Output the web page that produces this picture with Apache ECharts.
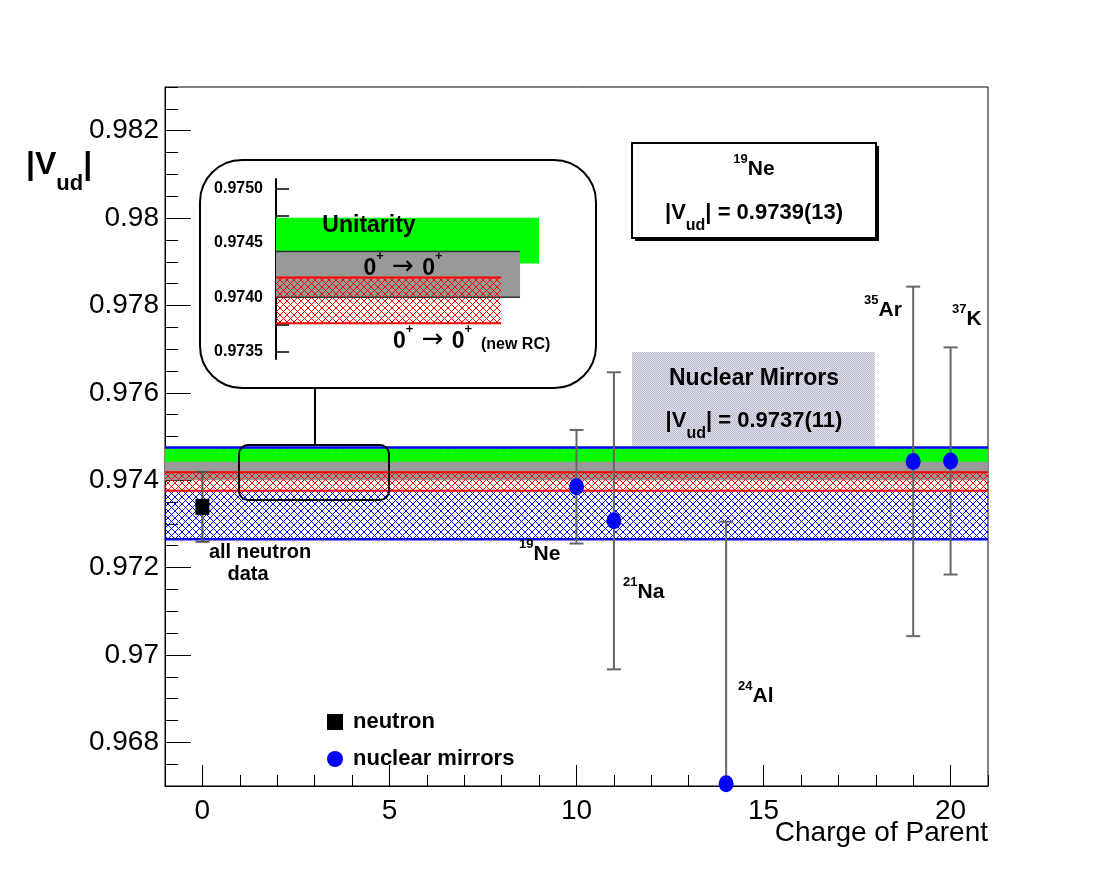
<!DOCTYPE html>
<html><head><meta charset="utf-8">
<script src="https://cdn.jsdelivr.net/npm/echarts@6/dist/echarts.min.js"></script>
<style>html,body{margin:0;padding:0;background:#fff}#c{width:1098px;height:874px}</style>
</head><body><div id="c"></div>
<script>
// ---------- data ----------
const xMajorTicks = [0, 5, 10, 15, 20];
const xMinorTicks = [-1, 0, 1, 2, 3, 4, 5, 6, 7, 8, 9, 10, 11, 12, 13, 14, 15, 16, 17, 18, 19, 20, 21];
const yMajorTicks = [0.968, 0.970, 0.972, 0.974, 0.976, 0.978, 0.980, 0.982];
const yMinorTicks = [0.9670, 0.9675, 0.9680, 0.9685, 0.9690, 0.9695, 0.9700, 0.9705, 0.9710, 0.9715,
  0.9720, 0.9725, 0.9730, 0.9735, 0.9740, 0.9745, 0.9750, 0.9755, 0.9760, 0.9765, 0.9770, 0.9775,
  0.9780, 0.9785, 0.9790, 0.9795, 0.9800, 0.9805, 0.9810, 0.9815, 0.9820, 0.9825, 0.9830];
const insetTicks = [0.97350, 0.97375, 0.97400, 0.97425, 0.97450, 0.97475, 0.97500];
const insetLabels = [0.9735, 0.9740, 0.9745, 0.9750];

const neutronZ = [0];
const neutronVud = [0.97339];
const neutronErr = [0.0008];

const mirrorNames = ['19Ne', '21Na', '24Al', '35Ar', '37K'];
const mirrorZ = [10, 11, 14, 19, 20];
const mirrorVud = [0.97385, 0.97307, 0.96705, 0.97443, 0.97444];
const mirrorErr = [0.0013, 0.0034, 0.0060, 0.0040, 0.0026];

const unitarityBand = [0.97431, 0.97473];
const superallowedBand = [0.97400, 0.97442];
const newRCBand = [0.97376, 0.97418];
const mirrorAvgBand = [0.97265, 0.97475];

// ---------- styles ----------
const FONT = 'Liberation Sans';
function hatch(color, size) {
  const c = document.createElement('canvas');
  c.width = c.height = size;
  const g = c.getContext('2d');
  g.strokeStyle = color; g.lineWidth = 1;
  g.beginPath();
  g.moveTo(-1, -1); g.lineTo(size + 1, size + 1);
  g.moveTo(size + 1, -1); g.lineTo(-1, size + 1);
  g.stroke();
  return { image: c, repeat: 'repeat' };
}
function checker(a, b) {
  const c = document.createElement('canvas');
  c.width = c.height = 2;
  const g = c.getContext('2d');
  g.fillStyle = b; g.fillRect(0, 0, 2, 2);
  g.fillStyle = a; g.fillRect(0, 0, 1, 1); g.fillRect(1, 1, 1, 1);
  return { image: c, repeat: 'repeat' };
}
const blueHatch = hatch('#0000ff', 7);
const redHatch = hatch('#ff0000', 7);

function bandSeries(name, band, fill, edge, xi, frac, z) {
  return {
    type: 'custom', name: name, xAxisIndex: xi, yAxisIndex: xi, z: z,
    clip: true, silent: true,
    data: [[0, band[0], band[1]]],
    encode: { x: 0, y: [1, 2] },
    renderItem: function (params, api) {
      const cs = params.coordSys;
      const yHi = api.coord([0, api.value(2)])[1];
      const yLo = api.coord([0, api.value(1)])[1];
      const w = cs.width * frac;
      const ch = [{ type: 'rect', shape: { x: cs.x, y: yHi, width: w, height: yLo - yHi }, style: { fill: fill } }];
      if (edge) {
        ch.push({ type: 'line', shape: { x1: cs.x, y1: yHi, x2: cs.x + w, y2: yHi }, style: { stroke: edge.color, lineWidth: edge.width } });
        ch.push({ type: 'line', shape: { x1: cs.x, y1: yLo, x2: cs.x + w, y2: yLo }, style: { stroke: edge.color, lineWidth: edge.width } });
      }
      return { type: 'group', children: ch };
    }
  };
}

function errSeries(xs, ys, es, color) {
  return {
    type: 'custom', clip: true, silent: true, z: 5,
    data: xs.map((x, i) => [x, ys[i], es[i]]),
    encode: { x: 0, y: 1 },
    renderItem: function (params, api) {
      const x = api.value(0), y = api.value(1), e = api.value(2);
      const top = api.coord([x, y + e]);
      const bot = api.coord([x, y - e]);
      const st = { stroke: color, lineWidth: 2 };
      return {
        type: 'group', children: [
          { type: 'line', shape: { x1: top[0], y1: top[1], x2: bot[0], y2: bot[1] }, style: st },
          { type: 'line', shape: { x1: top[0] - 7, y1: top[1], x2: top[0] + 7, y2: top[1] }, style: st },
          { type: 'line', shape: { x1: bot[0] - 7, y1: bot[1], x2: bot[0] + 7, y2: bot[1] }, style: st }
        ]
      };
    }
  };
}

// rich text helpers
const isoRich = {
  s: { fontFamily: FONT, fontSize: 13, fontWeight: 'bold', color: '#000', lineHeight: 14, verticalAlign: 'top' },
  e: { fontFamily: FONT, fontSize: 21, fontWeight: 'bold', color: '#000', lineHeight: 27, verticalAlign: 'bottom' }
};
function isoText(n) {
  const m = n.match(/^(\d+)(.*)$/);
  return '{s|' + m[1] + '}{e|' + m[2] + '}';
}
const vudRich = {
  b: { fontFamily: FONT, fontSize: 22, fontWeight: 'bold', color: '#000', lineHeight: 32, verticalAlign: 'top' },
  u: { fontFamily: FONT, fontSize: 16, fontWeight: 'bold', color: '#000', lineHeight: 32, verticalAlign: 'bottom' }
};
const labelPos = {
  '19Ne': [519, 551], '21Na': [623, 589], '24Al': [738, 693], '35Ar': [864, 307], '37K': [952, 316]
};

const graphics = [];
// Inset frame and connector
graphics.push({ type: 'rect', shape: { x: 200, y: 160, width: 396, height: 228, r: 42 }, style: { fill: null, stroke: '#000', lineWidth: 2 }, z: 20 });
graphics.push({ type: 'line', shape: { x1: 315, y1: 388, x2: 315, y2: 445 }, style: { stroke: '#000', lineWidth: 2 }, z: 20 });
graphics.push({ type: 'rect', shape: { x: 239, y: 445, width: 150, height: 55, r: 9 }, style: { fill: null, stroke: '#000', lineWidth: 2 }, z: 20 });
// 19Ne box
graphics.push({ type: 'rect', shape: { x: 635, y: 146, width: 244, height: 95 }, style: { fill: '#000' }, z: 20 });
graphics.push({ type: 'rect', shape: { x: 632, y: 143, width: 244, height: 95 }, style: { fill: '#fff', stroke: '#000', lineWidth: 2 }, z: 21 });
graphics.push({ type: 'text', x: 754, y: 166, z: 22, style: { text: isoText('19Ne'), rich: isoRich, align: 'center', verticalAlign: 'middle' } });
graphics.push({ type: 'text', x: 754, y: 218, z: 22, style: { text: '{b||V}{u|ud}{b|| = 0.9739(13)}', rich: vudRich, align: 'center', verticalAlign: 'middle' } });
// Nuclear mirrors box
graphics.push({ type: 'rect', shape: { x: 632, y: 352, width: 243, height: 94 }, style: { fill: checker('#b4b4d4', '#e6e6e6') }, z: 20 });
graphics.push({ type: 'text', x: 754, y: 379, z: 22, style: { text: 'Nuclear Mirrors', fontFamily: FONT, fontSize: 23, fontWeight: 'bold', fill: '#000', align: 'center', verticalAlign: 'middle' } });
graphics.push({ type: 'text', x: 754, y: 426, z: 22, style: { text: '{b||V}{u|ud}{b|| = 0.9737(11)}', rich: vudRich, align: 'center', verticalAlign: 'middle' } });
// isotope labels
mirrorNames.forEach(n => {
  graphics.push({ type: 'text', x: labelPos[n][0], y: labelPos[n][1], z: 22, style: { text: isoText(n), rich: isoRich, align: 'left', verticalAlign: 'middle' } });
});
graphics.push({ type: 'text', x: 260, y: 552, z: 22, style: { text: 'all neutron', fontFamily: FONT, fontSize: 20, fontWeight: 'bold', fill: '#000', align: 'center', verticalAlign: 'middle' } });
graphics.push({ type: 'text', x: 248, y: 574, z: 22, style: { text: 'data', fontFamily: FONT, fontSize: 20, fontWeight: 'bold', fill: '#000', align: 'center', verticalAlign: 'middle' } });
// inset texts
const arrowRich = {
  n: { fontFamily: FONT, fontSize: 23, fontWeight: 'bold', color: '#000', lineHeight: 28, verticalAlign: 'bottom' },
  a: { fontFamily: 'DejaVu Sans', fontSize: 26, color: '#000', lineHeight: 30, verticalAlign: 'bottom' },
  p: { fontFamily: FONT, fontSize: 13, fontWeight: 'bold', color: '#000', lineHeight: 14, verticalAlign: 'top' },
  r: { fontFamily: FONT, fontSize: 16, fontWeight: 'bold', color: '#000', lineHeight: 26, verticalAlign: 'bottom' }
};
graphics.push({ type: 'text', x: 369, y: 226, z: 22, style: { text: 'Unitarity', fontFamily: FONT, fontSize: 23, fontWeight: 'bold', fill: '#000', align: 'center', verticalAlign: 'middle' } });
graphics.push({ type: 'text', x: 403, y: 265, z: 22, style: { text: '{n|0}{p|+}{a| \u2192 }{n|0}{p|+}', rich: arrowRich, align: 'center', verticalAlign: 'middle' } });
graphics.push({ type: 'text', x: 393, y: 338, z: 22, style: { text: '{n|0}{p|+}{a| \u2192 }{n|0}{p|+}{r|  (new RC)}', rich: arrowRich, align: 'left', verticalAlign: 'middle' } });
// axis titles
graphics.push({ type: 'text', x: 988, y: 833, z: 22, style: { text: 'Charge of Parent', fontFamily: FONT, fontSize: 28, fill: '#000', align: 'right', verticalAlign: 'middle' } });
graphics.push({ type: 'text', x: 26, y: 172, z: 22, style: {
  text: '{v||V}{d|ud}{v||}', align: 'left', verticalAlign: 'middle',
  rich: {
    v: { fontFamily: FONT, fontSize: 32, fontWeight: 'bold', color: '#000', lineHeight: 46, verticalAlign: 'top' },
    d: { fontFamily: FONT, fontSize: 22, fontWeight: 'bold', color: '#000', lineHeight: 46, verticalAlign: 'bottom' }
  } } });

const option = {
  backgroundColor: '#fff',
  animation: false,
  grid: [
    { left: 165, right: 110, top: 87, bottom: 88, show: true, borderColor: '#000', borderWidth: 1, backgroundColor: 'transparent' },
    { left: 276, top: 179, width: 263, height: 180, show: false }
  ],
  xAxis: [
    { type: 'value', gridIndex: 0, min: -1, max: 21, position: 'bottom',
      axisLine: { show: true, onZero: false, lineStyle: { color: '#000', width: 1 } },
      axisTick: { show: true, inside: true, length: 21, customValues: xMajorTicks, lineStyle: { color: '#000' } },
      axisLabel: { show: true, customValues: xMajorTicks, fontFamily: FONT, fontSize: 28, color: '#000', margin: 11 },
      splitLine: { show: false } },
    { type: 'value', gridIndex: 0, min: -1, max: 21, position: 'bottom',
      axisLine: { show: false, onZero: false },
      axisTick: { show: true, inside: true, length: 11, customValues: xMinorTicks, lineStyle: { color: '#000' } },
      axisLabel: { show: false }, splitLine: { show: false } },
    { type: 'value', gridIndex: 1, min: 0, max: 1, show: false }
  ],
  yAxis: [
    { type: 'value', gridIndex: 0, min: 0.967, max: 0.983, position: 'left',
      axisLine: { show: true, onZero: false, lineStyle: { color: '#000', width: 1 } },
      axisTick: { show: true, inside: true, length: 26, customValues: yMajorTicks, lineStyle: { color: '#000' } },
      axisLabel: { show: true, customValues: yMajorTicks, fontFamily: FONT, fontSize: 28, color: '#000', margin: 6,
        padding: [5, 0, 0, 0], formatter: v => String(+v.toFixed(3)) },
      splitLine: { show: false } },
    { type: 'value', gridIndex: 0, min: 0.967, max: 0.983, position: 'left',
      axisLine: { show: false, onZero: false },
      axisTick: { show: true, inside: true, length: 13, customValues: yMinorTicks, lineStyle: { color: '#000' } },
      axisLabel: { show: false }, splitLine: { show: false } },
    { type: 'value', gridIndex: 1, min: 0.973433, max: 0.975085, position: 'left',
      axisLine: { show: true, onZero: false, lineStyle: { color: '#000', width: 2 } },
      axisTick: { show: true, inside: true, length: 13, customValues: insetTicks, lineStyle: { color: '#000', width: 1.5 } },
      axisLabel: { show: true, customValues: insetLabels, fontFamily: FONT, fontSize: 16, fontWeight: 'bold', color: '#000', margin: 13,
        formatter: v => v.toFixed(4) },
      splitLine: { show: false } }
  ],
  legend: {
    orient: 'vertical', left: 322, top: 706, itemWidth: 16, itemHeight: 16, itemGap: 15,
    data: ['neutron', 'nuclear mirrors'],
    textStyle: { fontFamily: FONT, fontSize: 22, fontWeight: 'bold', color: '#000', padding: [3, 0, 0, 5] }
  },
  series: [
    bandSeries('mirrorAvg', mirrorAvgBand, blueHatch, null, 0, 1, 1),
    bandSeries('unitarity', unitarityBand, '#00ff00', null, 0, 1, 2),
    bandSeries('superallowed', superallowedBand, '#999999', null, 0, 1, 2),
    bandSeries('newRC', newRCBand, redHatch, { color: '#ff0000', width: 2 }, 0, 1, 3),
    bandSeries('mirrorAvgEdge', mirrorAvgBand, 'transparent', { color: '#0000ff', width: 2.5 }, 0, 1, 3),
    bandSeries('insetUnitarity', unitarityBand, '#00ff00', null, 2, 1, 2),
    bandSeries('insetSuperallowed', superallowedBand, '#999999', { color: '#333333', width: 1.5 }, 2, 0.928, 2),
    bandSeries('insetNewRC', newRCBand, redHatch, { color: '#ff0000', width: 2 }, 2, 0.856, 3),
    errSeries(neutronZ, neutronVud, neutronErr, '#555555'),
    errSeries(mirrorZ, mirrorVud, mirrorErr, '#666666'),
    { type: 'scatter', name: 'neutron', z: 6, symbol: 'rect', symbolSize: [14, 16],
      itemStyle: { color: '#000', opacity: 1 }, data: neutronZ.map((x, i) => [x, neutronVud[i]]) },
    { type: 'scatter', name: 'nuclear mirrors', z: 6, symbol: 'circle', symbolSize: [15, 17],
      itemStyle: { color: '#0000ff', opacity: 1 }, data: mirrorZ.map((x, i) => [x, mirrorVud[i]]) }
  ],
  graphic: graphics
};
const chart = echarts.init(document.getElementById('c'), null, { renderer: 'canvas' });
chart.setOption(option);
</script>
</body></html>
